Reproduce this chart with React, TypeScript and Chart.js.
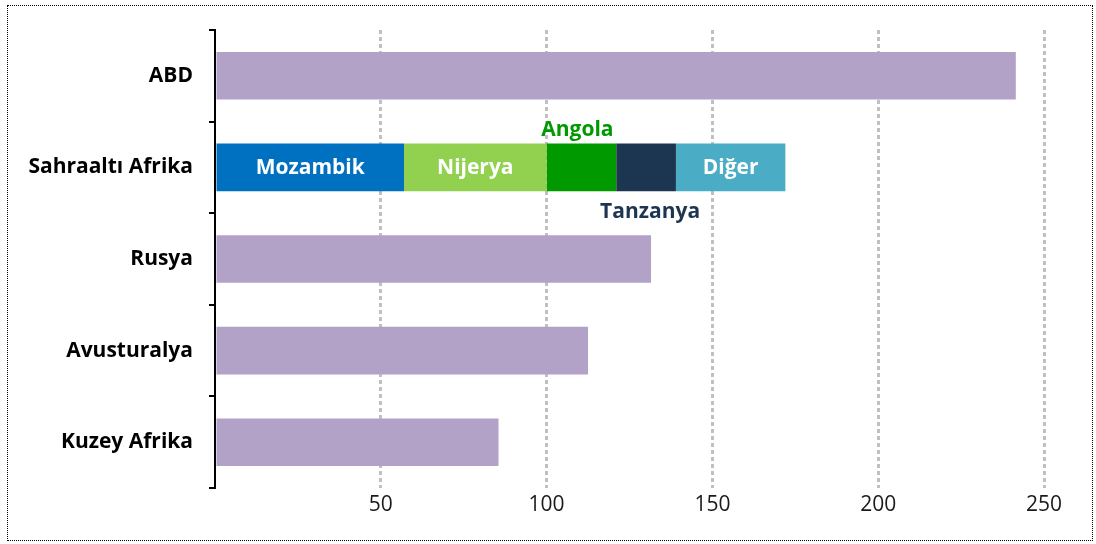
import React, { useEffect, useRef } from "react";
import { Chart, registerables } from "chart.js";

Chart.register(...registerables);

const categories = ["ABD", "Sahraaltı Afrika", "Rusya", "Avusturalya", "Kuzey Afrika"];
const totals = [241.5, null, 131.5, 112.5, 85.5];
const mozambik = [null, 57, null, null, null];
const nijerya = [null, 43, null, null, null];
const angola = [null, 21, null, null, null];
const tanzanya = [null, 18, null, null, null];
const diger = [null, 33, null, null, null];
const xTicks = [50, 100, 150, 200, 250];

const FONT = "'Open Sans', 'Noto Sans', sans-serif";

const segmentLabels = {
  id: "segmentLabels",
  afterDatasetsDraw(chart: any) {
    const ctx = chart.ctx;
    chart.data.datasets.forEach((ds: any, i: number) => {
      const info = ds.labelInfo;
      if (!info) return;
      const meta = chart.getDatasetMeta(i);
      const el: any = meta.data[1];
      if (!el) return;
      const cx = (el.x + el.base) / 2;
      const h = el.height;
      let y = el.y;
      if (info.pos === "above") y = el.y - h / 2 - 15;
      if (info.pos === "below") y = el.y + h / 2 + 20;
      ctx.save();
      ctx.font = `bold 21px ${FONT}`;
      ctx.fillStyle = info.color;
      ctx.textAlign = "center";
      ctx.textBaseline = "middle";
      ctx.fillText(ds.label, cx + (info.dx || 0), y + 1);
      ctx.restore();
    });
  },
};

export default function App() {
  const ref = useRef<HTMLCanvasElement>(null);
  useEffect(() => {
    if (!ref.current) return;
    const mk = (label: string, data: any[], color: string, labelInfo?: any) => ({
      label,
      data,
      backgroundColor: color,
      borderWidth: 0,
      categoryPercentage: 1,
      barPercentage: 0.52,
      labelInfo,
    });
    const chart = new Chart(ref.current, {
      type: "bar",
      data: {
        labels: categories,
        datasets: [
          mk("Toplam", totals, "#b3a2c7"),
          mk("Mozambik", mozambik, "#0070c0", { pos: "center", color: "#ffffff" }),
          mk("Nijerya", nijerya, "#92d050", { pos: "center", color: "#ffffff" }),
          mk("Angola", angola, "#009900", { pos: "above", color: "#009900", dx: -4 }),
          mk("Tanzanya", tanzanya, "#1c3550", { pos: "below", color: "#1c3550", dx: 4 }),
          mk("Diğer", diger, "#4bacc6", { pos: "center", color: "#ffffff" }),
        ] as any,
      },
      options: {
        indexAxis: "y",
        animation: false,
        responsive: false,
        maintainAspectRatio: false,
        layout: { padding: { top: 30, right: 52, bottom: 0, left: 0 } },
        plugins: { legend: { display: false }, tooltip: { enabled: false } },
        scales: {
          x: {
            stacked: true,
            min: 0,
            max: 250,
            afterBuildTicks: (s: any) => {
              s.ticks = [0, ...xTicks].map((v) => ({ value: v }));
            },
            ticks: {
              callback: (v: any) => (v === 0 ? "" : String(v)),
              font: { family: FONT, size: 21 },
              color: "#1a1a1a",
              padding: 4,
              maxRotation: 0,
            },
            grid: {
              color: (c: any) => (c.tick && c.tick.value === 0 ? "rgba(0,0,0,0)" : "#c0c0c0"),
              lineWidth: 3,
              drawTicks: false,
            },
            border: { display: false, dash: [4, 3] },
            afterFit: (s: any) => {
              s.height = 56;
            },
          },
          y: {
            stacked: true,
            ticks: {
              font: { family: FONT, size: 21, weight: "bold" },
              color: "#000000",
              padding: 16,
            },
            grid: {
              offset: true,
              drawOnChartArea: false,
              drawTicks: true,
              tickLength: 6,
              color: "#000000",
              lineWidth: 2,
            },
            border: { display: true, color: "#000000", width: 2 },
            afterFit: (s: any) => {
              s.width = 215;
            },
          },
        },
      } as any,
      plugins: [segmentLabels],
    });
    return () => chart.destroy();
  }, []);
  return (
    <div style={{ position: "absolute", left: 0, top: 0, width: 1096, height: 544, background: "#fff" }}>
      <div
        style={{
          position: "absolute",
          left: 7,
          top: 5,
          width: 1086,
          height: 536,
          border: "1px dotted #000",
          boxSizing: "border-box",
        }}
      />
      <canvas ref={ref} width={1096} height={544} style={{ position: "absolute", left: 0, top: 0 }} />
    </div>
  );
}
